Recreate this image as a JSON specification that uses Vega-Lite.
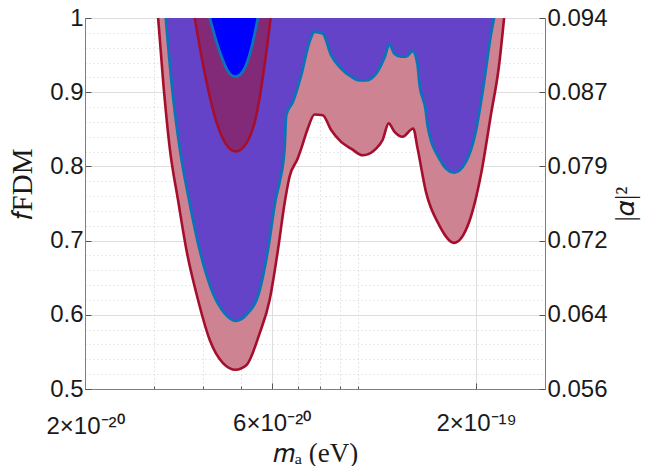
{
  "$schema": "https://vega.github.io/schema/vega-lite/v6.json",
  "width": 460,
  "height": 371,
  "autosize": "none",
  "padding": {"left": 85, "top": 18, "right": 104, "bottom": 77},
  "background": "white",
  "config": {
    "view": {"stroke": "#7f7f7f", "strokeWidth": 1},
    "font": "Liberation Sans",
    "area": {"opacity": 1, "fillOpacity": 1},
    "axis": {"labelFont": "Liberation Sans", "labelColor": "#1a1a1a", "titleFont": "Liberation Serif", "titleFontWeight": "normal", "titleColor": "#1a1a1a", "domainColor": "#7f7f7f", "tickColor": "#555555"}
  },
  "datasets": {
    "ro": [
      {"m": 3.076e-20, "f": 1.0}, {"m": 3.169e-20, "f": 0.914}, {"m": 3.295e-20, "f": 0.824},
      {"m": 3.46e-20, "f": 0.754}, {"m": 3.635e-20, "f": 0.687}, {"m": 3.891e-20, "f": 0.62},
      {"m": 4.169e-20, "f": 0.566}, {"m": 4.506e-20, "f": 0.535}, {"m": 4.856e-20, "f": 0.526},
      {"m": 5.17e-20, "f": 0.532}, {"m": 5.591e-20, "f": 0.575}, {"m": 5.93e-20, "f": 0.62},
      {"m": 6.226e-20, "f": 0.687}, {"m": 6.475e-20, "f": 0.75}, {"m": 6.668e-20, "f": 0.786},
      {"m": 7.0e-20, "f": 0.811}, {"m": 7.142e-20, "f": 0.824}, {"m": 7.424e-20, "f": 0.851},
      {"m": 7.722e-20, "f": 0.87}, {"m": 8.107e-20, "f": 0.869}, {"m": 8.518e-20, "f": 0.849},
      {"m": 9.034e-20, "f": 0.833}, {"m": 9.582e-20, "f": 0.824}, {"m": 1.026e-19, "f": 0.815},
      {"m": 1.11e-19, "f": 0.824}, {"m": 1.154e-19, "f": 0.836}, {"m": 1.195e-19, "f": 0.858},
      {"m": 1.236e-19, "f": 0.847}, {"m": 1.297e-19, "f": 0.84}, {"m": 1.381e-19, "f": 0.851},
      {"m": 1.417e-19, "f": 0.824}, {"m": 1.488e-19, "f": 0.766}, {"m": 1.609e-19, "f": 0.721},
      {"m": 1.757e-19, "f": 0.697}, {"m": 1.919e-19, "f": 0.725}, {"m": 2.056e-19, "f": 0.788},
      {"m": 2.181e-19, "f": 0.869}, {"m": 2.29e-19, "f": 0.937}, {"m": 2.358e-19, "f": 1.0}
    ],
    "bo": [
      {"m": 3.218e-20, "f": 1.0}, {"m": 3.328e-20, "f": 0.914}, {"m": 3.495e-20, "f": 0.824},
      {"m": 3.69e-20, "f": 0.755}, {"m": 3.93e-20, "f": 0.687}, {"m": 4.249e-20, "f": 0.629},
      {"m": 4.552e-20, "f": 0.602}, {"m": 4.856e-20, "f": 0.592}, {"m": 5.17e-20, "f": 0.6},
      {"m": 5.591e-20, "f": 0.633}, {"m": 5.87e-20, "f": 0.687}, {"m": 6.142e-20, "f": 0.755},
      {"m": 6.289e-20, "f": 0.779}, {"m": 6.475e-20, "f": 0.824}, {"m": 6.538e-20, "f": 0.869},
      {"m": 6.8e-20, "f": 0.887}, {"m": 7.142e-20, "f": 0.923}, {"m": 7.499e-20, "f": 0.968},
      {"m": 7.722e-20, "f": 0.9815}, {"m": 8.107e-20, "f": 0.979}, {"m": 8.518e-20, "f": 0.95},
      {"m": 9.034e-20, "f": 0.932}, {"m": 9.582e-20, "f": 0.921}, {"m": 1.006e-19, "f": 0.916},
      {"m": 1.046e-19, "f": 0.916}, {"m": 1.12e-19, "f": 0.928}, {"m": 1.165e-19, "f": 0.946},
      {"m": 1.2e-19, "f": 0.9646}, {"m": 1.236e-19, "f": 0.952}, {"m": 1.285e-19, "f": 0.948},
      {"m": 1.324e-19, "f": 0.948}, {"m": 1.376e-19, "f": 0.9555}, {"m": 1.417e-19, "f": 0.937},
      {"m": 1.431e-19, "f": 0.914}, {"m": 1.488e-19, "f": 0.874}, {"m": 1.502e-19, "f": 0.856},
      {"m": 1.609e-19, "f": 0.811}, {"m": 1.757e-19, "f": 0.7915}, {"m": 1.883e-19, "f": 0.806},
      {"m": 1.996e-19, "f": 0.847}, {"m": 2.096e-19, "f": 0.914}, {"m": 2.181e-19, "f": 0.977},
      {"m": 2.222e-19, "f": 1.0}
    ],
    "ri": [
      {"m": 3.816e-20, "f": 1.0}, {"m": 4.008e-20, "f": 0.937}, {"m": 4.336e-20, "f": 0.86},
      {"m": 4.598e-20, "f": 0.829}, {"m": 4.856e-20, "f": 0.82}, {"m": 5.17e-20, "f": 0.831},
      {"m": 5.484e-20, "f": 0.869}, {"m": 5.758e-20, "f": 0.937}, {"m": 5.965e-20, "f": 1.0}
    ],
    "bi": [
      {"m": 4.169e-20, "f": 1.0}, {"m": 4.42e-20, "f": 0.9546}, {"m": 4.688e-20, "f": 0.925},
      {"m": 4.856e-20, "f": 0.921}, {"m": 5.068e-20, "f": 0.928}, {"m": 5.325e-20, "f": 0.959},
      {"m": 5.535e-20, "f": 1.0}
    ]
  },
  "layer": [
    {
      "layer": [
        {
          "data": {"name": "ro"},
          "mark": {"type": "area", "interpolate": "monotone", "color": "#CD8391", "opacity": 1, "clip": true, "line": {"color": "#A50F2D", "strokeWidth": 2.6}},
          "encoding": {
            "x": {"field": "m", "type": "quantitative", "scale": {"type": "log", "domain": [2e-20, 3e-19], "nice": false},
              "axis": {
                "values": [2e-20, 3e-20, 4e-20, 5e-20, 6e-20, 7e-20, 8e-20, 9e-20, 1e-19, 2e-19, 3e-19],
                "tickCount": 100,
                "labelExpr": "datum.value < 2.05e-20 ? '2×10⁻²⁰' : (abs(datum.value - 6e-20) < 1e-21 ? '6×10⁻²⁰' : (abs(datum.value - 2e-19) < 1e-21 ? '2×10⁻¹⁹' : ''))",
                "labelFontSize": 24, "labelPadding": 28, "labelOverlap": false, "labelFlush": false,
                "title": "𝑚ₐ (eV)", "titleFontSize": 27, "titlePadding": 2,
                "grid": true,
                "gridColor": {"condition": {"test": "abs(datum.value - 6e-20) < 1e-21 || abs(datum.value - 2e-19) < 1e-21", "value": "#dedede"}, "value": "#cfcfcf"},
                "gridDash": {"condition": {"test": "abs(datum.value - 6e-20) < 1e-21 || abs(datum.value - 2e-19) < 1e-21", "value": []}, "value": [1, 3]},
                "tickSize": {"condition": {"test": "abs(datum.value - 6e-20) < 1e-21 || abs(datum.value - 2e-19) < 1e-21", "value": -6}, "value": -3},
                "domainColor": "#7f7f7f"
              }},
            "y": {"field": "f", "type": "quantitative", "scale": {"domain": [0.5, 1], "nice": false},
              "axis": {
                "values": [0.5, 0.52, 0.54, 0.56, 0.58, 0.6, 0.62, 0.64, 0.66, 0.68, 0.7, 0.72, 0.74, 0.76, 0.78, 0.8, 0.82, 0.84, 0.86, 0.88, 0.9, 0.92, 0.94, 0.96, 0.98, 1.0],
                "tickCount": 100,
                "labelExpr": "abs(datum.value * 10 - round(datum.value * 10)) < 0.01 ? format(datum.value, '~g') : ''",
                "labelFontSize": 24, "labelPadding": 8, "labelOverlap": false, "labelFlush": false,
                "title": "𝑓FDM", "titleFontSize": 29, "titlePadding": 12, "titleY": 166,
                "grid": true,
                "gridColor": {"condition": {"test": "abs(datum.value * 10 - round(datum.value * 10)) < 0.01", "value": "#dedede"}, "value": "#d2d2d2"},
                "gridDash": {"condition": {"test": "abs(datum.value * 10 - round(datum.value * 10)) < 0.01", "value": []}, "value": [1, 3]},
                "tickSize": {"condition": {"test": "abs(datum.value * 10 - round(datum.value * 10)) < 0.01", "value": -6}, "value": 0}
              }},
            "y2": {"datum": 1}
          }
        },
        {
          "data": {"name": "bo"},
          "mark": {"type": "area", "interpolate": "monotone", "color": "#6443C8", "opacity": 1, "clip": true, "line": {"color": "#0A74B8", "strokeWidth": 2.8}},
          "encoding": {
            "x": {"field": "m", "type": "quantitative"},
            "y": {"field": "f", "type": "quantitative"},
            "y2": {"datum": 1}
          }
        },
        {
          "data": {"name": "ri"},
          "mark": {"type": "area", "interpolate": "monotone", "color": "#822A78", "opacity": 1, "clip": true, "line": {"color": "#A50F2D", "strokeWidth": 2.6}},
          "encoding": {
            "x": {"field": "m", "type": "quantitative"},
            "y": {"field": "f", "type": "quantitative"},
            "y2": {"datum": 1}
          }
        }
      ]
    },
    {
      "data": {"name": "bi"},
      "mark": {"type": "area", "interpolate": "monotone", "color": "#0000FF", "opacity": 1, "clip": true, "line": {"color": "#0A74B8", "strokeWidth": 2.8}},
      "encoding": {
        "x": {"field": "m", "type": "quantitative"},
        "y": {"field": "f", "type": "quantitative", "scale": {"domain": [0.5, 1], "nice": false},
          "axis": {
            "orient": "right",
            "values": [0.5, 0.6, 0.7, 0.8, 0.9, 1.0],
            "tickCount": 100,
            "labelExpr": "['0.056', '0.064', '0.072', '0.079', '0.087', '0.094'][round(datum.value * 10) - 5]",
            "labelFontSize": 24, "labelPadding": 8, "labelOverlap": false, "labelFlush": false,
            "title": "|𝛼|²", "titleFontSize": 27, "titleAngle": -90, "titlePadding": 32,
            "grid": false, "tickSize": -6
          }},
        "y2": {"datum": 1}
      }
    }
  ],
  "resolve": {"scale": {"y": "independent"}}
}
